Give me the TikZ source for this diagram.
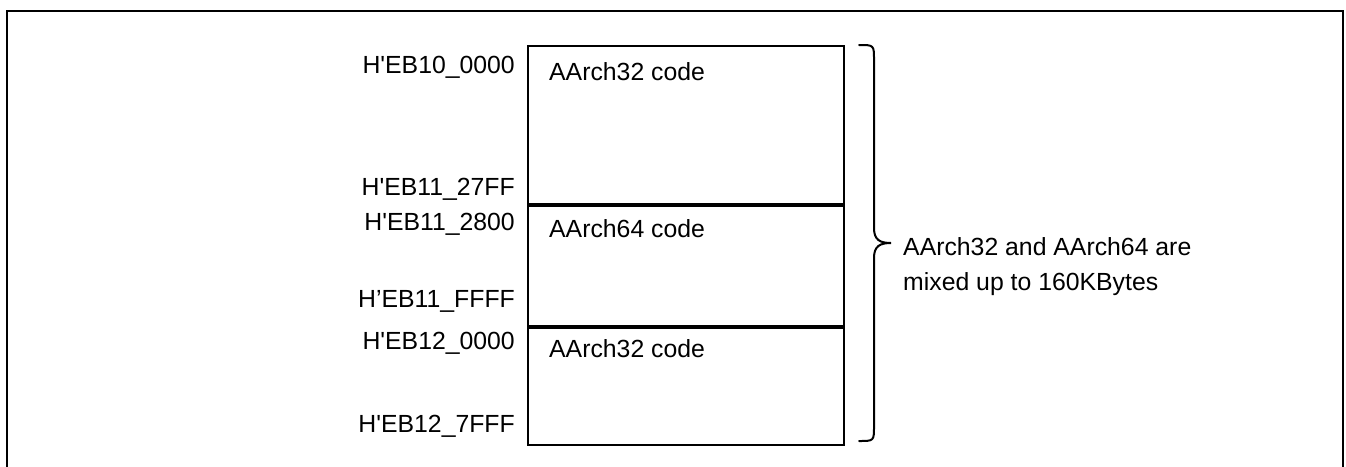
\documentclass[tikz,border=0pt]{standalone}
\usepackage{fontspec}
\setmainfont{Liberation Sans}
\begin{document}
\begin{tikzpicture}[x=1pt,y=-1pt,
  txt/.style={inner sep=0pt,font=\fontsize{24.8}{35}\selectfont},
  addr/.style={txt,anchor=base east},
  cell/.style={draw,line width=2pt,minimum width=316pt,inner sep=0pt},
  bracepath/.style={line width=2pt,line cap=round}]
\useasboundingbox (0,0) rectangle (1346,466);
\clip (0,0) rectangle (1346,466);
\draw[line width=2.3pt] (7,480) -- (7,11) -- (1343,11) -- (1343,480);
% memory cells
\node[cell,minimum height=158pt,anchor=north west] (c1) at (527,45) {};
\node[cell,minimum height=120pt,anchor=north west] (c2) at (c1.south west) {};
\node[cell,minimum height=117pt,anchor=north west] (c3) at (c2.south west) {};
\node[txt,anchor=base west] (t1) at (549,80) {AArch32 code};
\node[txt,anchor=base west] (t2) at (549,237) {AArch64 code};
\node[txt,anchor=base west] (t3) at (549,357) {AArch32 code};
% addresses
\node[addr] (a1) at (515,73) {H\textquotesingle EB10\_0000};
\node[addr] (a2) at (515,195) {H\textquotesingle EB11\_27FF};
\node[addr] (a3) at (515,230) {H\textquotesingle EB11\_2800};
\node[addr] (a4) at (515,307) {H’EB11\_FFFF};
\node[addr] (a5) at (515,349) {H\textquotesingle EB12\_0000};
\node[addr] (a6) at (515,432) {H\textquotesingle EB12\_7FFF};
% brace
\coordinate (btop) at (859,45);
\coordinate (bbot) at (859,441);
\coordinate (btip) at (891,243);
\draw[bracepath] (btop) .. controls (874,45) .. (874,60) -- (874,228)
  .. controls (874,240) and (880,243) .. (btip)
  .. controls (880,243) and (874,246) .. (874,258) -- (874,426)
  .. controls (874,441) .. (bbot);
\node[txt,anchor=base west,align=left] (note) at (903,290) {AArch32 and AArch64 are\\mixed up to 160KBytes};
\end{tikzpicture}
\end{document}
